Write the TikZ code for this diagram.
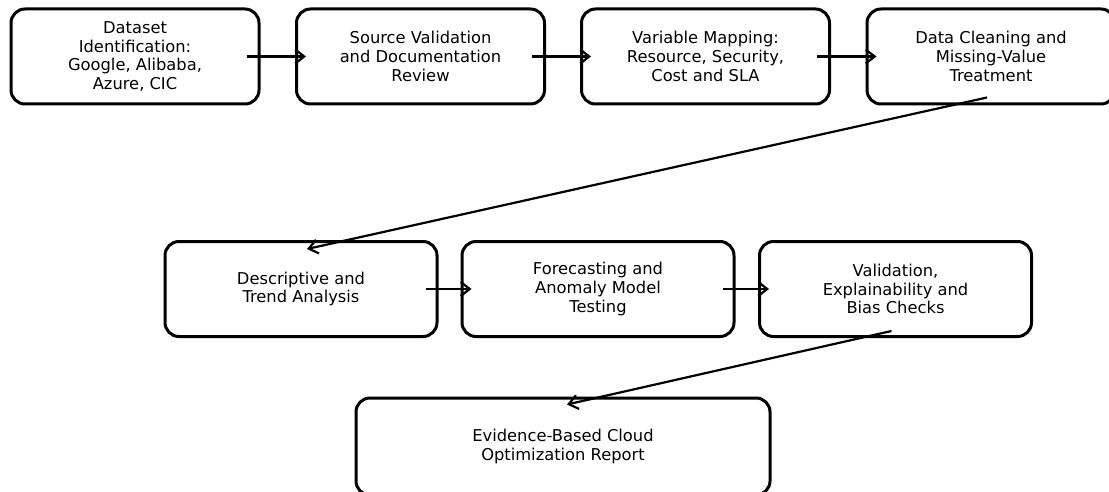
\documentclass[tikz,border=0pt]{standalone}
\usepackage{fontspec}
\setmainfont{DejaVu Sans}
\usetikzlibrary{arrows.meta,calc}
\tikzset{
  stage/.style={draw=black, line width=3pt, rounded corners=14pt, align=center,
    minimum height=95pt, inner sep=0pt,
    font=\fontsize{16.3pt}{18.8pt}\selectfont, text=black},
  flow/.style={line width=2.2pt, -{Straight Barb[length=9pt, width=14pt, line width=2.2pt]}}
}
\begin{document}
\begin{tikzpicture}[x=1pt, y=-1pt]
  \useasboundingbox (0,0) rectangle (1109,492);
  % first row
  \node[stage, minimum width=248pt] (s1) at (135,56.5) {Dataset\\Identification:\\Google, Alibaba,\\Azure, CIC};
  \node[stage, minimum width=248pt] (s2) at (420.5,56.5) {Source Validation\\and Documentation\\Review};
  \node[stage, minimum width=248pt] (s3) at (705.5,56.5) {Variable Mapping:\\Resource, Security,\\Cost and SLA};
  \node[stage, minimum width=248pt] (s4) at (991,56.5) {Data Cleaning and\\Missing-Value\\Treatment};
  % second row
  \node[stage, minimum width=272pt] (s5) at (301,289) {Descriptive and\\Trend Analysis};
  \node[stage, minimum width=272pt] (s6) at (598,289) {Forecasting and\\Anomaly Model\\Testing};
  \node[stage, minimum width=272pt] (s7) at (895.5,289) {Validation,\\Explainability and\\Bias Checks};
  % final report
  \node[stage, minimum width=414pt, minimum height=97pt] (s8) at (563,446.5) {Evidence-Based Cloud\\Optimization Report};
  % connectors
  \draw[flow] ($(s1.east)+(-14,0)$) -- ($(s2.west)+(11,0)$);
  \draw[flow] ($(s2.east)+(-14,0)$) -- ($(s3.west)+(11,0)$);
  \draw[flow] ($(s3.east)+(-14,0)$) -- ($(s4.west)+(11,0)$);
  \draw[flow] ($(s4.south)+(-4,-8)$) -- ($(s5.north)+(6,9)$);
  \draw[flow] ($(s5.east)+(-13,0)$) -- ($(s6.west)+(11,0)$);
  \draw[flow] ($(s6.east)+(-13,0)$) -- ($(s7.west)+(11,0)$);
  \draw[flow] ($(s7.south)+(-4,-7)$) -- ($(s8.north)+(4,8)$);
\end{tikzpicture}
\end{document}
